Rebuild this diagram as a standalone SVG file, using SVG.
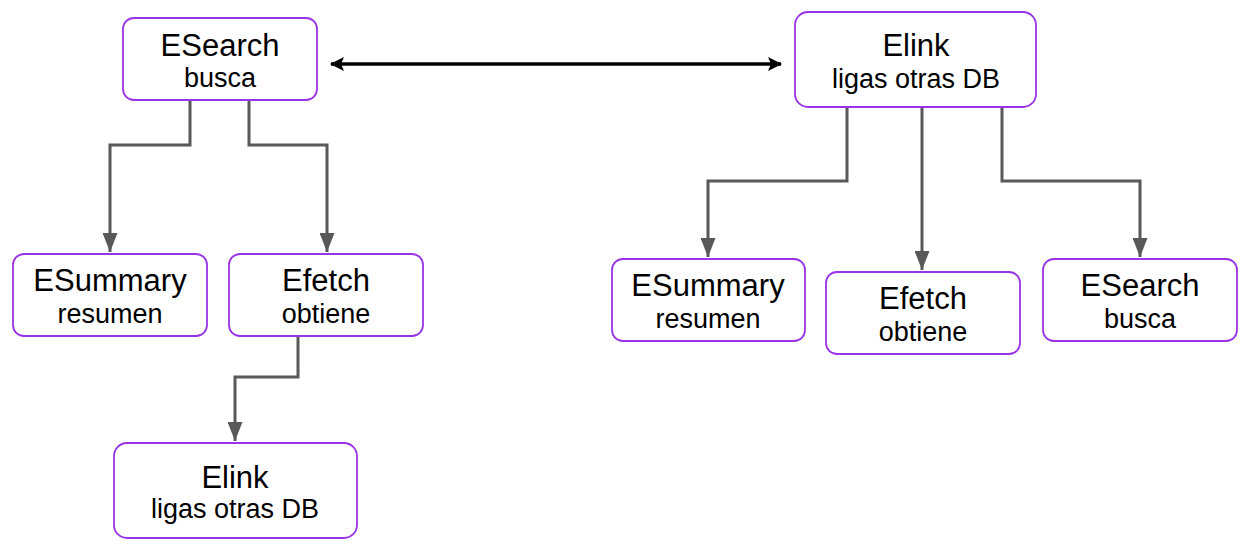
<svg xmlns="http://www.w3.org/2000/svg" width="1252" height="553" viewBox="0 0 1252 553">
<style>
.box{fill:#fff;stroke:#9933e6;stroke-width:1.8}
.t{font-family:"Liberation Sans",Arial,sans-serif;font-size:31px;fill:#000;text-anchor:middle}
.s{font-family:"Liberation Sans",Arial,sans-serif;font-size:27px;fill:#000;text-anchor:middle}
.c{fill:none;stroke:#595959;stroke-width:3}
</style>
<defs>
<marker id="ah" markerUnits="userSpaceOnUse" markerWidth="19" markerHeight="15" refX="19" refY="7.5" orient="auto" viewBox="0 0 19 15">
<path d="M0,0 L19,7.5 L0,15 Z" fill="#595959"/>
</marker>
<marker id="bk" markerUnits="userSpaceOnUse" markerWidth="14" markerHeight="14" refX="13" refY="7" orient="auto-start-reverse" viewBox="0 0 14 14">
<path d="M0,0 L14,7 L0,14 L3,7 Z" fill="#000"/>
</marker>
</defs>
<g id="connectors">
<path class="c" d="M190,100 V145 H110 V252" marker-end="url(#ah)"/>
<path class="c" d="M249,100 V145 H327 V252" marker-end="url(#ah)"/>
<path class="c" d="M298,336 V377 H235 V441" marker-end="url(#ah)"/>
<path class="c" d="M847,107 V181 H708 V257" marker-end="url(#ah)"/>
<path class="c" d="M922,107 V270" marker-end="url(#ah)"/>
<path class="c" d="M1002,107 V181 H1140 V257" marker-end="url(#ah)"/>
<path d="M331,64 H781" fill="none" stroke="#000" stroke-width="3.5" marker-start="url(#bk)" marker-end="url(#bk)"/>
</g>
<g id="esearch-top">
<rect class="box" x="123" y="18" width="194" height="82" rx="11"/>
<text class="t" x="220" y="56">ESearch</text>
<text class="s" x="220" y="87">busca</text>
</g>
<g id="elink-top">
<rect class="box" x="795" y="12" width="241" height="95" rx="13"/>
<text class="t" x="916" y="56">Elink</text>
<text class="s" x="916" y="88">ligas otras DB</text>
</g>
<g id="esummary-left">
<rect class="box" x="13" y="254" width="194" height="82" rx="11"/>
<text class="t" x="110" y="291">ESummary</text>
<text class="s" x="110" y="323">resumen</text>
</g>
<g id="efetch-left">
<rect class="box" x="229" y="254" width="194" height="82" rx="11"/>
<text class="t" x="326" y="291">Efetch</text>
<text class="s" x="326" y="323">obtiene</text>
</g>
<g id="elink-bottom">
<rect class="box" x="114" y="443" width="243" height="95" rx="13"/>
<text class="t" x="235" y="488">Elink</text>
<text class="s" x="235" y="518">ligas otras DB</text>
</g>
<g id="esummary-right">
<rect class="box" x="612" y="259" width="193" height="82" rx="11"/>
<text class="t" x="708" y="296">ESummary</text>
<text class="s" x="708" y="328">resumen</text>
</g>
<g id="efetch-right">
<rect class="box" x="826" y="272" width="194" height="82" rx="11"/>
<text class="t" x="923" y="309">Efetch</text>
<text class="s" x="923" y="341">obtiene</text>
</g>
<g id="esearch-right">
<rect class="box" x="1043" y="259" width="194" height="82" rx="11"/>
<text class="t" x="1140" y="296">ESearch</text>
<text class="s" x="1140" y="328">busca</text>
</g>
</svg>
